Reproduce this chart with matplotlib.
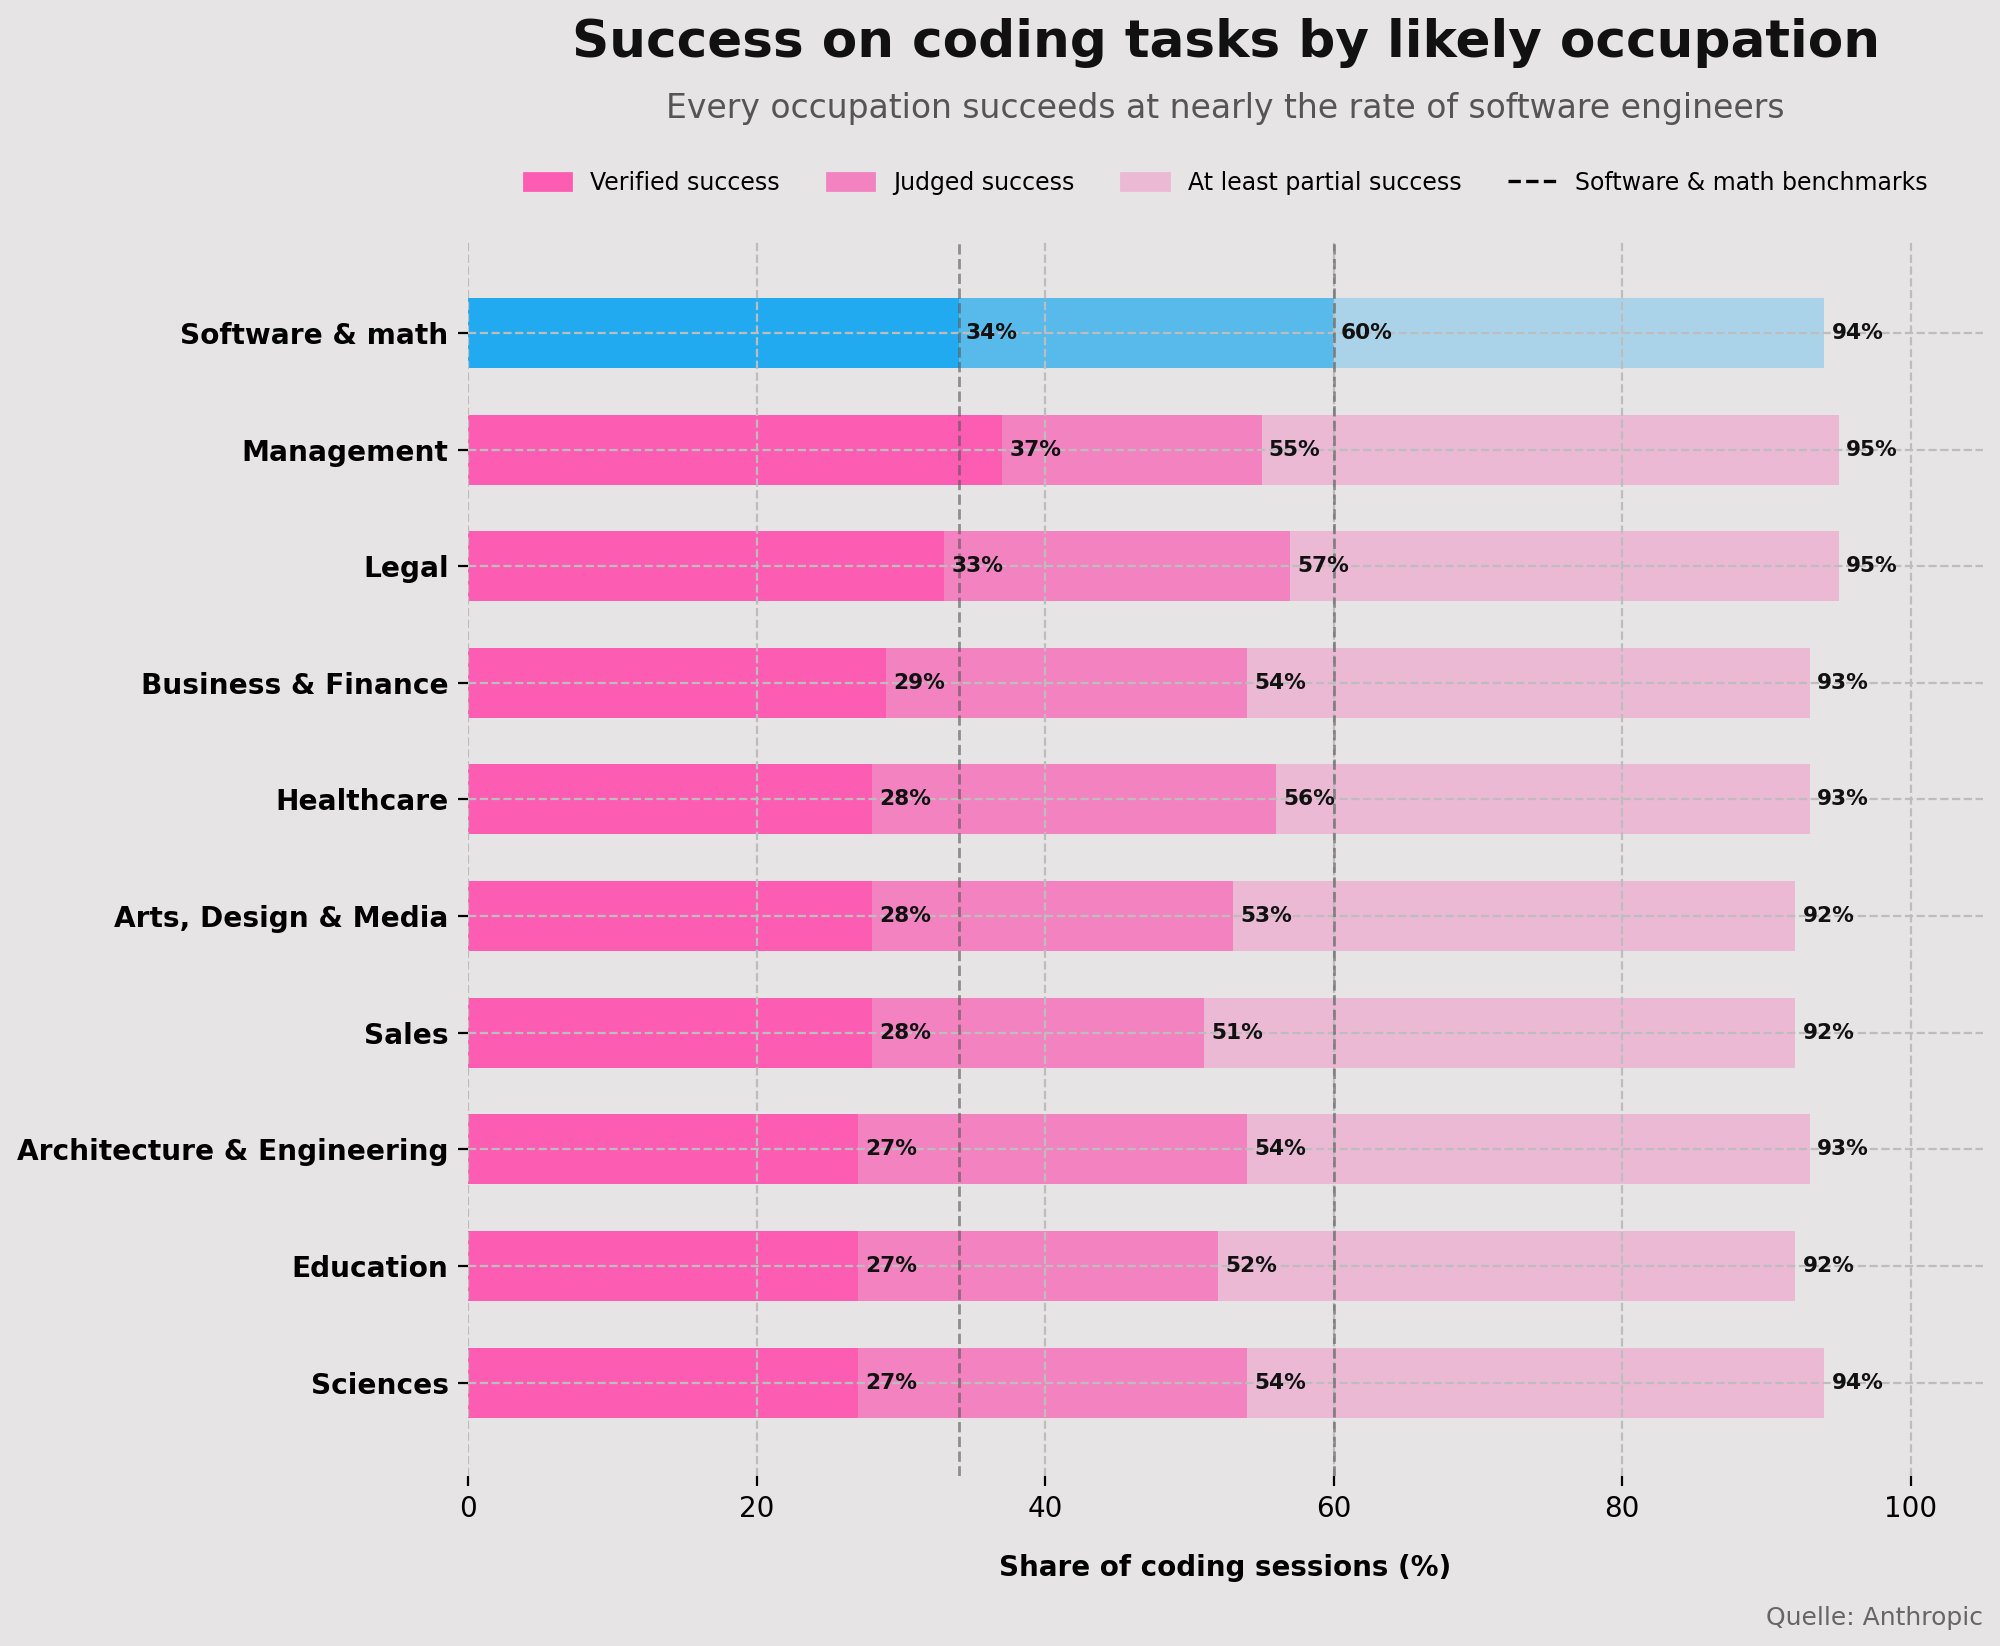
import numpy as np
import matplotlib.pyplot as plt
from matplotlib.patches import Patch
from matplotlib.lines import Line2D

# data
occupations = ['Software & math', 'Management', 'Legal', 'Business & Finance',
               'Healthcare', 'Arts, Design & Media', 'Sales',
               'Architecture & Engineering', 'Education', 'Sciences']
verified = [34, 37, 33, 29, 28, 28, 28, 27, 27, 27]
judged = [60, 55, 57, 54, 56, 53, 51, 54, 52, 54]
partial = [94, 95, 95, 93, 93, 92, 92, 93, 92, 94]
benchmarks = [verified[0], judged[0]]

bg = '#E6E4E5'
pink = ['#FC5CB2', '#F283C0', '#ECB9D5']
blue = ['#22AAF0', '#58B9EB', '#AAD3E9']


def main():
    fig = plt.figure(figsize=(10, 8.23), dpi=200, facecolor=bg)
    ax = fig.add_axes([0.234, 0.1033, 0.7575, 0.7497])  # [left, bottom, width, height]
    ax.set_facecolor(bg)

    y = np.arange(len(occupations))
    bar_h = 0.6

    for i in range(len(occupations)):
        cols = blue if i == 0 else pink
        ax.barh(y[i], partial[i], height=bar_h, color=cols[2], zorder=1)
        ax.barh(y[i], judged[i], height=bar_h, color=cols[1], zorder=1)
        ax.barh(y[i], verified[i], height=bar_h, color=cols[0], zorder=1)
        for v in (verified[i], judged[i], partial[i]):
            ax.text(v + 0.5, y[i], f'{v}%', va='center', ha='left',
                    fontsize=7.8, fontweight='bold', color='#111111', zorder=4)

    # benchmark lines from the software & math row
    for b in benchmarks:
        ax.axvline(b, color='#555555', linestyle='--', linewidth=1.0,
                   alpha=0.6, zorder=3)

    ax.grid(True, linestyle='--', color='#bdbdbd', linewidth=0.8, zorder=2)
    ax.set_axisbelow(False)

    ax.set_xlim(0, 105)
    ax.set_ylim(len(occupations) - 0.2, -0.78)
    ax.set_xticks([0, 20, 40, 60, 80, 100])
    ax.set_yticks(y)
    ax.set_yticklabels(occupations, fontsize=10.1, fontweight='bold')
    ax.tick_params(axis='x', labelsize=10)
    for s in ax.spines.values():
        s.set_visible(False)

    ax.set_xlabel('Share of coding sessions (%)', fontsize=10,
                  fontweight='bold', labelpad=11)

    cx = 0.234 + 0.7575 / 2
    fig.text(cx, 0.9654, 'Success on coding tasks by likely occupation',
             ha='center', va='baseline', fontsize=18.6, fontweight='bold',
             color='#111111')
    fig.text(cx, 0.9283, 'Every occupation succeeds at nearly the rate of software engineers',
             ha='center', va='baseline', fontsize=11.9, color='#555555')

    handles = [Patch(color=pink[0]), Patch(color=pink[1]), Patch(color=pink[2]),
               Line2D([0], [0], color='black', linestyle='--', linewidth=1.2)]
    labels = ['Verified success', 'Judged success', 'At least partial success',
              'Software & math benchmarks']
    fig.legend(handles, labels, loc='center', bbox_to_anchor=(cx, 0.889),
               ncol=4, frameon=False, fontsize=8.5, columnspacing=2.0)

    fig.text(0.9915, 0.0128, 'Quelle: Anthropic', ha='right', va='baseline',
             fontsize=9, color='#666666')

    fig.savefig('out.png', dpi=200, facecolor=bg)


if __name__ == "__main__":
    main()
